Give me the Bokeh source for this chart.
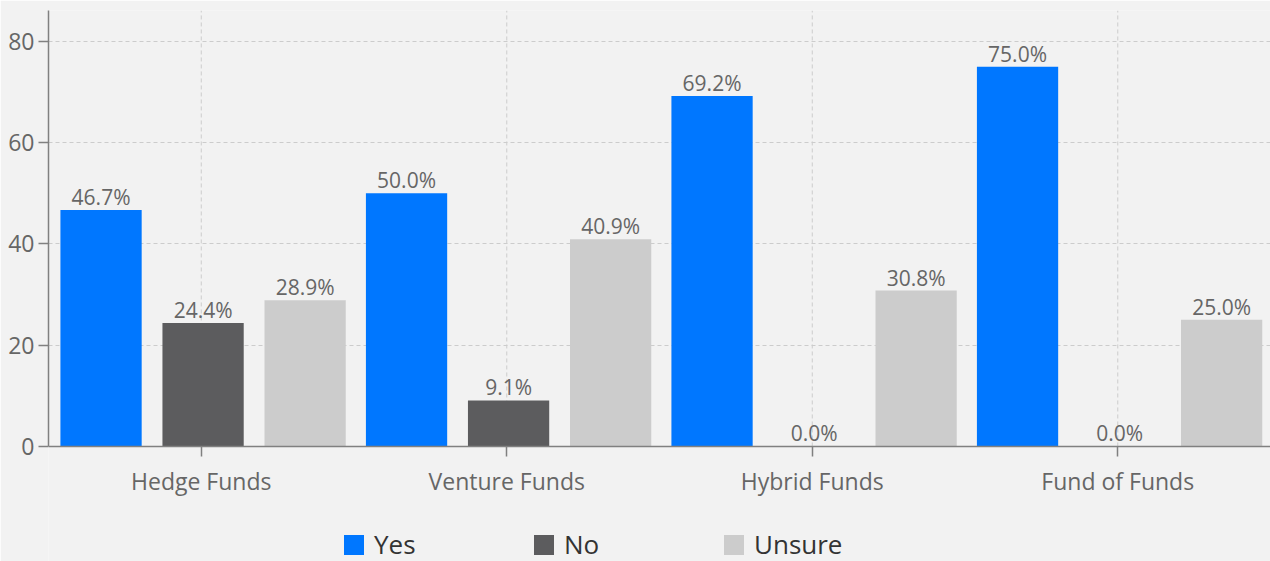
from bokeh.plotting import figure
from bokeh.models import ColumnDataSource, FactorRange, Range1d, Legend, LegendItem, FixedTicker
from bokeh.transform import dodge
from bokeh.core.properties import value
from bokeh.embed import file_html
from bokeh.resources import INLINE

categories = ["Hedge Funds", "Venture Funds", "Hybrid Funds", "Fund of Funds"]
series_names = ["Yes", "No", "Unsure"]
yes_vals = [46.7, 50.0, 69.2, 75.0]
no_vals = [24.4, 9.1, 0.0, 0.0]
unsure_vals = [28.9, 40.9, 30.8, 25.0]
colors = ["#0077ff", "#5c5c5e", "#cccccc"]
y_ticks = [0, 20, 40, 60, 80]

FONT = "Open Sans"
BG = "#f2f2f2"
Y_TOP = 86.1

src = ColumnDataSource(dict(
    cat=categories,
    Yes=yes_vals, No=no_vals, Unsure=unsure_vals,
    Yes_lbl=[f"{v:.1f}%" for v in yes_vals],
    No_lbl=[f"{v:.1f}%" for v in no_vals],
    Unsure_lbl=[f"{v:.1f}%" for v in unsure_vals],
))

p = figure(x_range=FactorRange(*categories, range_padding=0), y_range=Range1d(-22.72, Y_TOP),
           width=1270, height=561, output_backend="svg", toolbar_location=None,
           min_border_left=48, min_border_right=0, min_border_top=10, min_border_bottom=0)
p.background_fill_color = BG
p.border_fill_color = BG
p.outline_line_color = None

# vertical grid lines at category centres (only above the x axis)
p.xgrid.visible = False
p.segment(x0=categories, y0=[0] * len(categories), x1=categories, y1=[Y_TOP] * len(categories),
          line_color="#cccccc", line_dash="4 3", line_width=1)

offsets = [-0.328, 0.006, 0.340]
renderers = []
for name, off, col in zip(series_names, offsets, colors):
    r = p.vbar(x=dodge("cat", off, range=p.x_range), top=name, width=0.266, source=src,
               fill_color=col, line_color=None)
    renderers.append(r)
    p.text(x=dodge("cat", off, range=p.x_range), y=name, text=name + "_lbl", source=src,
           text_align="center", text_baseline="bottom", y_offset=1,
           text_font=value(FONT), text_font_size="21px", text_color="#666666")

p.ygrid.grid_line_color = "#cccccc"
p.ygrid.grid_line_dash = "4 3"
p.ygrid.grid_line_width = 1
p.ygrid.ticker = FixedTicker(ticks=y_ticks)
p.yaxis.ticker = FixedTicker(ticks=y_ticks)
p.yaxis.bounds = (0, Y_TOP)
p.xaxis.fixed_location = 0

for ax in (p.xaxis, p.yaxis):
    ax.axis_line_color = "#808080"
    ax.axis_line_width = 1.5
    ax.major_tick_line_color = "#808080"
    ax.major_tick_line_width = 1.5
    ax.major_tick_out = 10
    ax.major_tick_in = 0
    ax.minor_tick_line_color = None
    ax.major_label_text_font = FONT
    ax.major_label_text_color = "#666666"
p.yaxis.major_label_text_font_size = "23px"
p.yaxis.major_label_standoff = 4
p.xaxis.major_label_text_font_size = "23px"
p.xaxis.major_label_standoff = 9

legend = Legend(items=[LegendItem(label=n, renderers=[r]) for n, r in zip(series_names, renderers)],
                orientation="horizontal", location=(293, -1),
                glyph_width=25, glyph_height=25, label_standoff=8, label_width=126, spacing=31,
                padding=0, margin=0, background_fill_alpha=0, border_line_color=None,
                label_text_font=FONT, label_text_font_size="26px", label_text_color="#333333")
p.add_layout(legend, "center")

open("out.html", "w").write(file_html(p, INLINE))
